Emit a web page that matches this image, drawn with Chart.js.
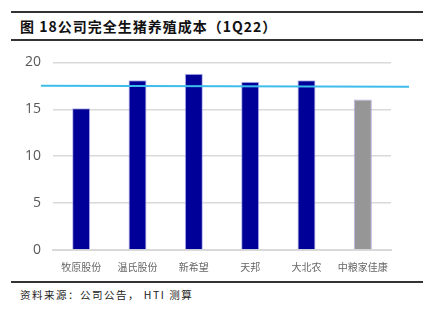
<!DOCTYPE html>
<html>
<head>
<meta charset="utf-8">
<script src="https://cdn.jsdelivr.net/npm/chart.js@4"></script>
<style>
  html, body { margin: 0; padding: 0; background: #fff; }
  body { width: 431px; height: 311px; position: relative; overflow: hidden; font-family: "Noto Sans CJK SC", "Noto Sans", sans-serif; }
  .rule { position: absolute; left: 11px; width: 412px; height: 2px; background: #333; }
  .title { position: absolute; left: 20px; top: 16px; font-size: 14px; font-weight: bold; color: #111; letter-spacing: 1px; }
  .source { position: absolute; left: 20px; top: 287px; font-size: 10.5px; color: #222; letter-spacing: 1.5px; }
  .wrap { position: absolute; left: 0; top: 42px; width: 431px; height: 234px; }
</style>
</head>
<body>
<div class="rule" style="top:11px"></div>
<div class="title">图 18公司完全生猪养殖成本（1Q22）</div>
<div class="rule" style="top:39px"></div>
<div class="wrap"><canvas id="js-chart-cost"></canvas></div>
<div class="rule" style="top:281px"></div>
<div class="source">资料来源：公司公告， HTI 测算</div>

<script>
// Chart data
const companies = ["牧原股份", "温氏股份", "新希望", "天邦", "大北农", "中粮家佳康"];
const fullCost = [15.1, 18.1, 18.8, 17.95, 18.1, 16.05];
const barColors = ["#000099", "#000099", "#000099", "#000099", "#000099", "#969696"];
// Industry average line (left end, right end)
const avgLine = [17.5, 17.4];
const yTicks = [0, 5, 10, 15, 20];

// Draws the average line a bit wider than the plot area
const avgLinePlugin = {
  id: "avgLine",
  afterDatasetsDraw(chart) {
    const { ctx, chartArea, scales } = chart;
    const y = scales.y;
    ctx.save();
    ctx.strokeStyle = "#3DBDEB";
    ctx.lineWidth = 2;
    ctx.beginPath();
    ctx.moveTo(chartArea.left - 12, y.getPixelForValue(avgLine[0]));
    ctx.lineTo(chartArea.right + 18, y.getPixelForValue(avgLine[1]));
    ctx.stroke();
    ctx.restore();
  },
};

const chartCon = document.getElementById("js-chart-cost");
new Chart(chartCon, {
  type: "bar",
  data: {
    labels: companies,
    datasets: [
      {
        label: "完全成本",
        data: fullCost,
        backgroundColor: barColors,
        borderColor: "rgba(160, 160, 230, .8)",
        borderWidth: 1,
        categoryPercentage: 1,
        barPercentage: 0.32,
      },
    ],
  },
  options: {
    responsive: true,
    maintainAspectRatio: false,
    animation: false,
    layout: { padding: { left: 13, right: 40, top: 8, bottom: 0 } },
    scales: {
      x: {
        grid: { display: false },
        border: { color: "#d9d9d9", width: 2 },
        ticks: {
          color: "#666666",
          font: { size: 10, family: "Noto Sans CJK SC" },
          padding: 3,
          maxRotation: 0,
          minRotation: 0,
          autoSkip: false,
        },
      },
      y: {
        min: 0,
        max: 20,
        afterBuildTicks: (axis) => {
          axis.ticks = yTicks.map((v) => ({ value: v }));
        },
        grid: { color: "#d9d9d9", lineWidth: 1.5, drawTicks: false },
        border: { display: false },
        ticks: { color: "#595959", font: { size: 14, family: "Open Sans" }, padding: 12 },
      },
    },
    plugins: {
      legend: { display: false },
      tooltip: { enabled: false },
    },
  },
  plugins: [avgLinePlugin],
});
</script>
</body>
</html>
